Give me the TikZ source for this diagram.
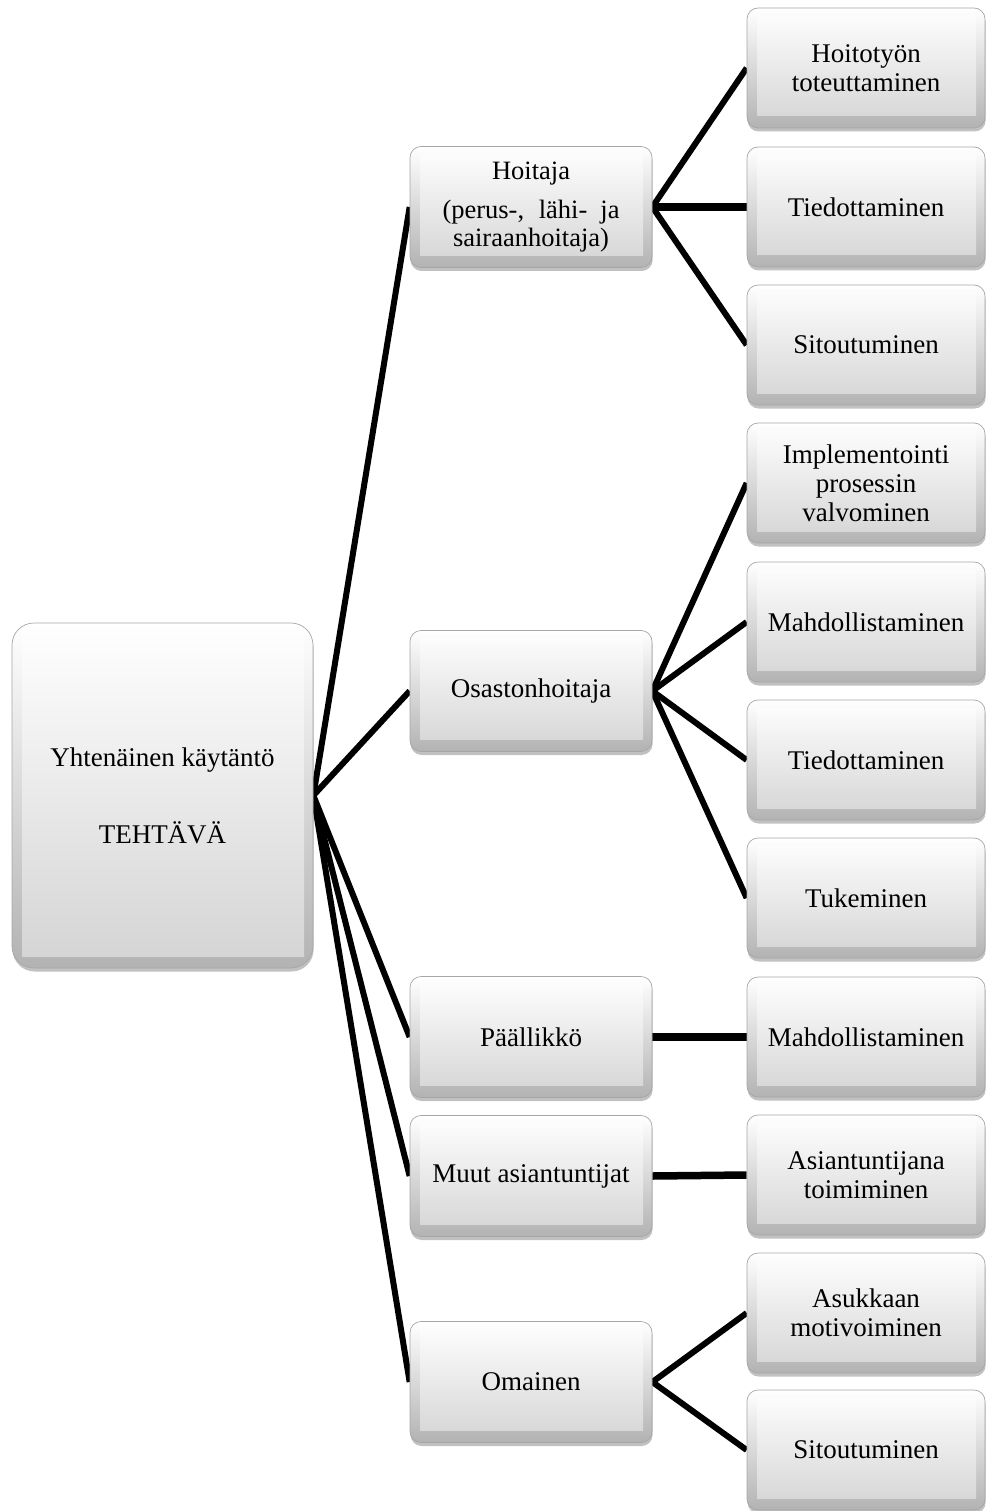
\documentclass[tikz,border=0pt]{standalone}
\usepackage{fontspec}
\setmainfont{Liberation Serif}
\usetikzlibrary{shadows,backgrounds}

\begin{document}
\begin{tikzpicture}[x=1pt,y=-1pt,
  tile/.style={rectangle, rounded corners=11pt, draw=black!35, line width=0.7pt,
    top color=white, bottom color=black!30,
    drop shadow={shadow xshift=0.6pt, shadow yshift=-3.5pt, opacity=0.35, fill=black!70},
    path picture={
      \shade[sharp corners, top color=white, bottom color=black!17]
        ([xshift=10pt,yshift=-8pt]path picture bounding box.north west) rectangle
        ([xshift=-9pt,yshift=12pt]path picture bounding box.south east);
    },
    font=\fontsize{27pt}{29pt}\selectfont, align=center, inner sep=0pt, text=black},
  rootbox/.style={tile, rounded corners=22pt, minimum width=301pt, minimum height=345pt},
  mid/.style={tile, minimum width=242pt, minimum height=121pt},
  leaf/.style={tile, minimum width=238pt, minimum height=120pt},
  link/.style={line width=6pt, black},
  flat/.style={line width=7.5pt}
]
\useasboundingbox (0,0) rectangle (987,1511);

% root
\node[rootbox] (root) at (162.5,795.5) {Yhtenäinen käytäntö\\[48pt]TEHTÄVÄ};

% roles
\node[mid, font=\fontsize{26.5pt}{27.5pt}\selectfont] (m1) at (531,207)
  {Hoitaja\\[12pt]\makebox[177pt][s]{(perus-, lähi- ja}\\sairaanhoitaja)};
\node[mid] (m2) at (531,691) {Osastonhoitaja};
\node[mid] (m3) at (531,1037) {Päällikkö};
\node[mid] (m4) at (531,1176) {Muut asiantuntijat};
\node[mid] (m5) at (531,1382) {Omainen};

% tasks
\node[leaf] (r1) at (866,68) {Hoitotyön\\toteuttaminen};
\node[leaf] (r2) at (866,207) {Tiedottaminen};
\node[leaf] (r3) at (866,345) {Sitoutuminen};
\node[leaf] (r4) at (866,483) {Implementointi\\prosessin\\valvominen};
\node[leaf] (r5) at (866,622) {Mahdollistaminen};
\node[leaf] (r6) at (866,760) {Tiedottaminen};
\node[leaf] (r7) at (866,898) {Tukeminen};
\node[leaf] (r8) at (866,1037) {Mahdollistaminen};
\node[leaf] (r9) at (866,1175) {Asiantuntijana\\toimiminen};
\node[leaf] (r10) at (866,1313) {Asukkaan\\motivoiminen};
\node[leaf] (r11) at (866,1450) {Sitoutuminen};

\begin{scope}[on background layer]
  \foreach \m in {m1,m2,m3,m4,m5} \draw[link] (root.east) -- (\m.west);
  \draw[link] (m1.east) -- (r1.west);
  \draw[link,flat] (m1.east) -- (r2.west);
  \draw[link] (m1.east) -- (r3.west);
  \foreach \r in {r4,r5,r6,r7} \draw[link] (m2.east) -- (\r.west);
  \draw[link,flat] (m3.east) -- (r8.west);
  \draw[link,flat] (m4.east) -- (r9.west);
  \draw[link] (m5.east) -- (r10.west);
  \draw[link] (m5.east) -- (r11.west);
\end{scope}
\end{tikzpicture}
\end{document}
